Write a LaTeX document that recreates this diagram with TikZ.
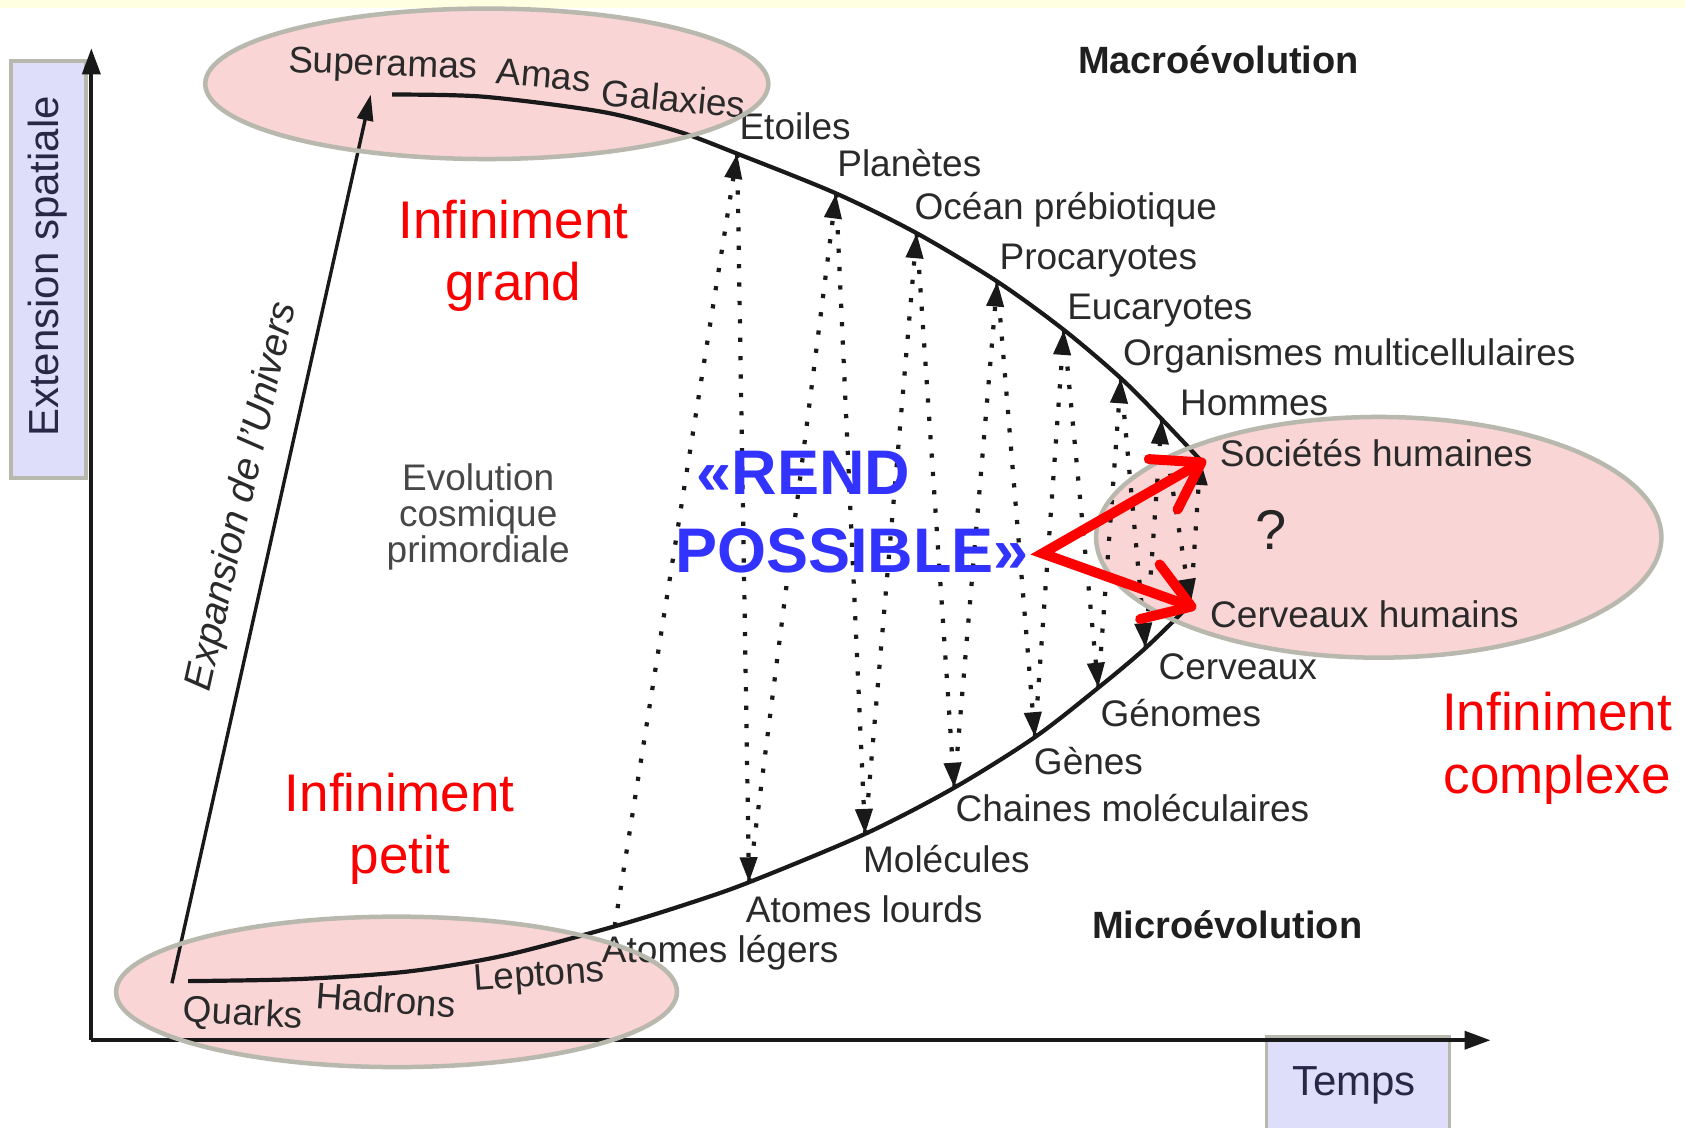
\documentclass[tikz,border=0pt]{standalone}
\usepackage{fontspec}
\setmainfont{Liberation Sans}
\usetikzlibrary{arrows.meta}
\definecolor{pinkfill}{RGB}{250,213,213}
\definecolor{ellborder}{RGB}{184,184,174}
\definecolor{lav}{RGB}{222,222,250}
\definecolor{lbl}{RGB}{42,42,42}
\definecolor{axtext}{RGB}{40,40,70}
\definecolor{bluetxt}{RGB}{51,51,255}
\definecolor{topband}{RGB}{255,255,226}
\definecolor{redtxt}{RGB}{250,0,0}
\tikzset{
  ellfill/.style={fill=pinkfill},
  ellline/.style={draw=ellborder, line width=4.5pt},
  lab/.style={anchor=base west, inner sep=0pt, text=lbl, font=\fontsize{37}{40}\selectfont},
  redlab/.style={anchor=base, inner sep=0pt, text=redtxt, font=\fontsize{53}{60}\selectfont},
  bluelab/.style={anchor=base west, inner sep=0pt, text=bluetxt, font=\fontsize{63}{70}\selectfont\bfseries},
  boldlab/.style={anchor=base west, inner sep=0pt, text=black!88, font=\fontsize{38}{40}\selectfont\bfseries},
  greylab/.style={anchor=base, inner sep=0pt, text=black!72, font=\fontsize{37}{40}\selectfont},
  dotl/.style={draw=black!90, line width=4.2pt, dash pattern=on 4.2pt off 14.2pt, -{Triangle[length=25pt,width=17pt]}},
  evcurve/.style={draw=black!90, line width=4.2pt},
  axisline/.style={draw=black!90, line width=3.8pt, -{Triangle[length=26pt,width=18pt]}},
  axisbox/.style={fill=lav, draw=ellborder, line width=3.5pt},
  redarrow/.style={draw=red, line width=10pt, line join=miter, {Straight Barb[length=44pt,width=58pt,round]}-{Straight Barb[length=44pt,width=58pt,round]}},
}
\begin{document}
\begin{tikzpicture}[x=1.0746pt,y=-1.0746pt]
\useasboundingbox (0,0) rectangle (1568,1049);
\fill[white] (0,0) rectangle (1568,1049);
\fill[topband] (0,0) rectangle (1568,7);

% ellipse fills
\path[ellfill] (453,78) ellipse [x radius=262, y radius=70];
\path[ellfill] (369,923) ellipse [x radius=261, y radius=70];
\path[ellfill] (1283,500) ellipse [x radius=263, y radius=112];

% axis boxes
\node[axisbox, minimum width=75.2pt, minimum height=417pt, inner sep=0pt] (exbox) at (45,251) {};
\node[rotate=90, text=axtext, font=\fontsize{42}{44}\selectfont, inner sep=0pt] (extxt) at (44,248) {Extension spatiale};
\node[axisbox, minimum width=182.7pt, minimum height=100pt, inner sep=0pt, anchor=north west] (tbox) at (1177,963) {};
\node[text=axtext, font=\fontsize{42}{44}\selectfont, inner sep=0pt] (ttxt) at (1260,1010) {Temps};

% axes
\coordinate (O) at (85,968);
\coordinate (Ytop) at (85,45);
\coordinate (Xend) at (1387,968);
\draw[axisline] (O) -- (Ytop);
\draw[axisline] (O) -- (Xend);

% expansion arrow
\coordinate (Ex0) at (160,915);
\coordinate (Ex1) at (345,88);
\draw[draw=black!90, line width=3.4pt, -{Triangle[length=26pt,width=16pt]}] (Ex0) -- (Ex1);
\node[rotate=77.4, text=lbl, font=\fontsize{39}{40}\selectfont\itshape, inner sep=0pt] (exptxt) at (226,462) {Expansion de l'Univers};

% curve coordinates
\coordinate (U0) at (365,88);
\coordinate (Ua) at (450,90);
\coordinate (Ub) at (560,104);
\coordinate (Uc) at (630,122);
\coordinate (U1) at (686,143);
\coordinate (U2) at (778,180);
\coordinate (U3) at (853,217);
\coordinate (U4) at (928,262);
\coordinate (U5) at (990,307);
\coordinate (U6) at (1043,352);
\coordinate (U7) at (1081,390);
\coordinate (U8) at (1117,428);

\coordinate (L00) at (175,913);
\coordinate (La) at (280,911);
\coordinate (Lb) at (380,904);
\coordinate (Lc) at (470,889);
\coordinate (L0) at (572,862);
\coordinate (Ld) at (640,841);
\coordinate (L1) at (697,821);
\coordinate (L2) at (805,776);
\coordinate (L3) at (888,733);
\coordinate (L4) at (963,686);
\coordinate (L5) at (1022,640);
\coordinate (L6) at (1066,603);
\coordinate (L7) at (1108,562);

\draw[evcurve] plot[smooth, tension=0.5] coordinates {(U0) (Ua) (Ub) (Uc) (U1) (U2) (U3) (U4) (U5) (U6) (U7) (U8)};
\draw[evcurve] plot[smooth, tension=0.5] coordinates {(L00) (La) (Lb) (Lc) (L0) (Ld) (L1) (L2) (L3) (L4) (L5) (L6) (L7)};

% dotted zigzag
\draw[dotl] (L0) -- (U1);
\draw[dotl] (U1) -- (L1);
\draw[dotl] (L1) -- (U2);
\draw[dotl] (U2) -- (L2);
\draw[dotl] (L2) -- (U3);
\draw[dotl] (U3) -- (L3);
\draw[dotl] (L3) -- (U4);
\draw[dotl] (U4) -- (L4);
\draw[dotl] (L4) -- (U5);
\draw[dotl] (U5) -- (L5);
\draw[dotl] (L5) -- (U6);
\draw[dotl] (U6) -- (L6);
\draw[dotl] (L6) -- (U7);
\draw[dotl] (U7) -- (L7);
\draw[dotl] (L7) -- (U8);

% labels upper
\node[lab, rotate=-2] (superamas) at (268,67) {Superamas};
\node[lab, rotate=-5] (amas) at (461,78) {Amas};
\node[lab, rotate=-5] (galaxies) at (559,98) {Galaxies};
\node[lab] (etoiles) at (688,130) {Étoiles};
\node[lab] (planetes) at (779,164) {Planètes};
\node[lab] (ocean) at (851,204) {Océan prébiotique};
\node[lab] (procaryotes) at (930,251) {Procaryotes};
\node[lab] (eucaryotes) at (993,297) {Eucaryotes};
\node[lab] (organismes) at (1045,340) {Organismes multicellulaires};
\node[lab] (hommes) at (1098,387) {Hommes};
\node[lab] (societes) at (1135,434) {Sociétés humaines};
% labels lower
\node[lab] (cerhum) at (1126,584) {Cerveaux humains};
\node[lab] (cerveaux) at (1078,632) {Cerveaux};
\node[lab] (genomes) at (1024,676) {Génomes};
\node[lab] (genes) at (962,721) {Gènes};
\node[lab] (chaines) at (889,764) {Chaines moléculaires};
\node[lab] (molecules) at (803,812) {Molécules};
\node[lab] (lourds) at (694,858) {Atomes lourds};
\node[lab] (legers) at (560,896) {Atomes légers};
\node[lab, rotate=4] (leptons) at (441,922) {Leptons};
\node[lab, rotate=-4] (hadrons) at (293,938) {Hadrons};
\node[lab, rotate=-3] (quarks) at (170,951) {Quarks};

\node[boldlab] (macro) at (1003,68) {Macroévolution};
\node[boldlab] (micro) at (1016,873) {Microévolution};

\node[greylab] (evo1) at (445,456) {Evolution};
\node[greylab] (evo2) at (445,490) {cosmique};
\node[greylab] (evo3) at (445,523) {primordiale};

% red labels
\node[redlab] (ig1) at (478,222) {Infiniment};
\node[redlab] (ig2) at (478,280) {grand};
\node[redlab] (ip1) at (372,755) {Infiniment};
\node[redlab] (ip2) at (372,813) {petit};
\node[redlab] (ic1) at (1449,680) {Infiniment};
\node[redlab] (ic2) at (1449,738) {complexe};

\node[text=black!85, font=\fontsize{56}{60}\selectfont, inner sep=0pt] (qm) at (1183,493) {?};

% ellipse borders
\draw[ellline] (453,78) ellipse [x radius=262, y radius=70];
\draw[ellline] (369,923) ellipse [x radius=261, y radius=70];
\draw[ellline] (1283,500) ellipse [x radius=263, y radius=112];

% blue text
\node[bluelab] (rend) at (648,460) {«REND};
\node[bluelab] (possible) at (628,533) {POSSIBLE»};

% red arrows
\coordinate (RP) at (970,515);
\coordinate (RA) at (1122,428);
\coordinate (RB) at (1113,566);
\draw[redarrow] (RA) -- (RP) -- (RB);
\end{tikzpicture}
\end{document}
